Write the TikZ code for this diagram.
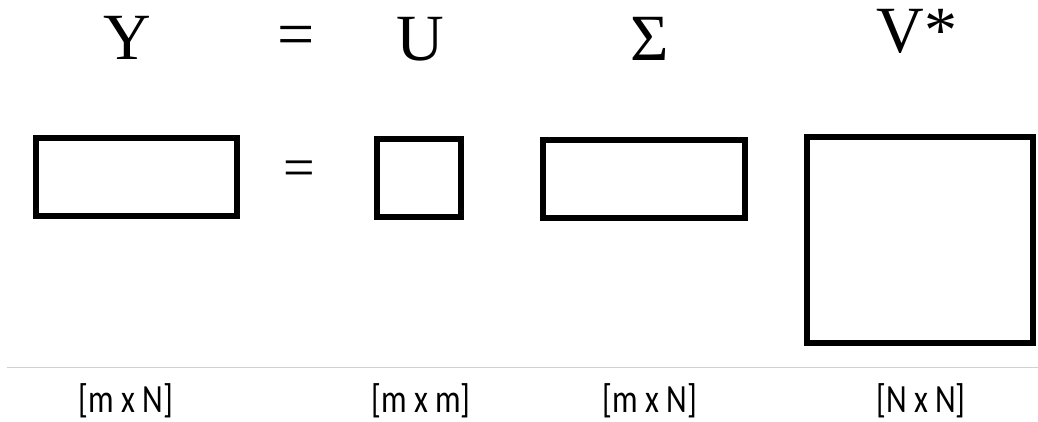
\documentclass[tikz,border=0pt]{standalone}
\usepackage{fontspec}
\setmainfont{Liberation Serif}
\newfontfamily\dimfont[FakeStretch=0.8]{Carlito}
\usepackage{tikz}

\tikzset{
  mat/.style={draw,line width=6.5pt,inner sep=0pt,outer sep=0pt},
  sym/.style={anchor=base,inner sep=0pt,font=\fontsize{66}{66}\selectfont},
  dim/.style={anchor=base,inner sep=0pt,font=\dimfont\fontsize{40}{40}\selectfont}
}

\begin{document}
\begin{tikzpicture}[x=1pt,y=-1pt]
  \useasboundingbox (0,0) rectangle (1038,421);
  % top row: the factors
  \node[sym] (sY) at (127,59) {Y};
  \node[sym] (sEq) at (296,56) {=};
  \node[sym] (sU) at (420,60) {U};
  \node[sym] (sS) at (650,60) {Σ};
  \node[sym] (sV) at (917,52) {V*};
  % the matrices as boxes
  \node[mat,minimum width=201pt,minimum height=78pt] (rY) at (136.5,177) {};
  \node[sym,font=\fontsize{56}{56}\selectfont] (rEq) at (299,186.5) {=};
  \node[mat,minimum width=84pt,minimum height=78pt] (rU) at (419,178) {};
  \node[mat,minimum width=202pt,minimum height=78pt] (rS) at (644,179) {};
  \node[mat,minimum width=226pt,minimum height=206pt] (rV) at (920,240) {};
  % rule and sizes
  \coordinate (ruleL) at (7,367);
  \coordinate (ruleR) at (1038,367);
  \draw[black!18,line width=1pt] (ruleL) -- (ruleR);
  \foreach \px/\txt/\nm in {126/{[m x N]}/dY, 421/{[m x m]}/dU, 650/{[m x N]}/dS, 921/{[N x N]}/dV}
    { \node[dim] (\nm) at (\px,412) {\txt}; }
\end{tikzpicture}
\end{document}
